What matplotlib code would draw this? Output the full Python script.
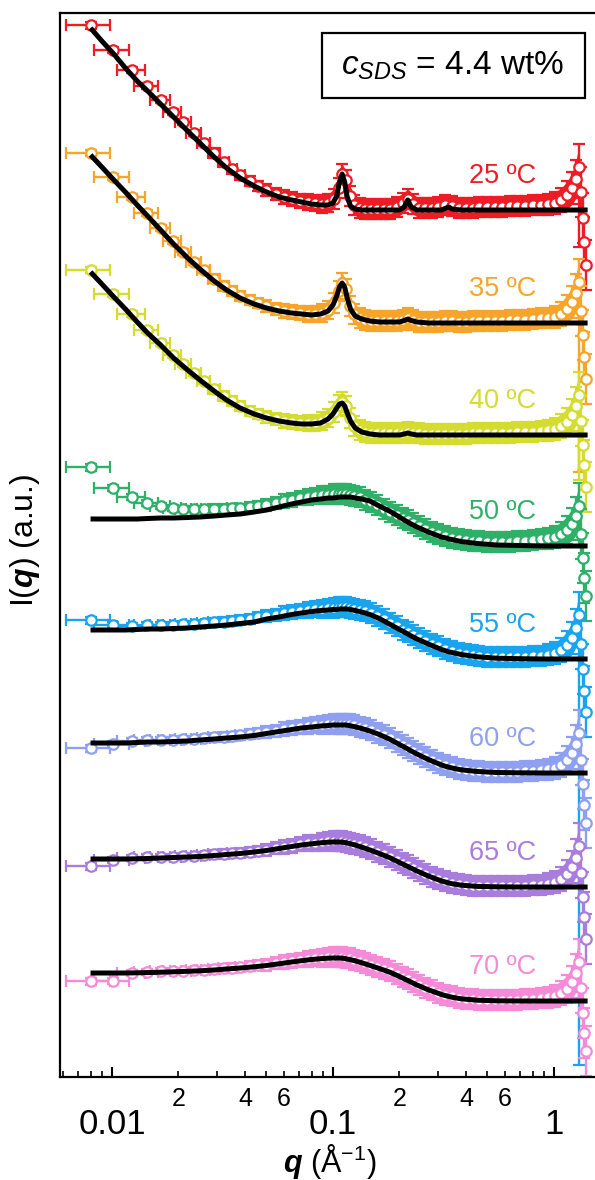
import numpy as np
import matplotlib
matplotlib.use("Agg")
import matplotlib.pyplot as plt
from matplotlib.ticker import FixedLocator, FixedFormatter, LogLocator, FuncFormatter
from matplotlib.patches import Rectangle

plt.rcParams['font.family'] = ['Liberation Sans', 'DejaVu Sans']
plt.rcParams['mathtext.fontset'] = 'custom'
plt.rcParams['mathtext.rm'] = 'Liberation Sans'
plt.rcParams['mathtext.it'] = 'Liberation Sans:italic'
plt.rcParams['mathtext.bf'] = 'Liberation Sans:bold:italic'

# ---------------- data ----------------
temps = ["25 ºC", "35 ºC", "40 ºC", "50 ºC", "55 ºC", "60 ºC", "65 ºC", "70 ºC"]
colors = ["#ee1c24", "#f7a42a", "#d4dc2e", "#2fb068", "#18a4ee", "#8fa0f0", "#a87ddd", "#f48ad8"]
offsets = [86.7, 75.4, 64.2, 53.1, 41.8, 30.4, 19.0, 7.6]

q_data = [0.0080, 0.0101, 0.0123, 0.0144, 0.0166, 0.0188, 0.0210, 0.0235, 0.026, 0.029,
          0.032, 0.035, 0.038, 0.042, 0.046, 0.050, 0.055, 0.060, 0.065, 0.071,
          0.077, 0.083, 0.089, 0.095, 0.101, 0.106, 0.110, 0.114, 0.119, 0.125,
          0.132, 0.140, 0.149, 0.159, 0.170, 0.182, 0.195, 0.208, 0.218, 0.230,
          0.245, 0.262, 0.280, 0.300, 0.322, 0.345, 0.37, 0.40, 0.43, 0.46,
          0.50, 0.54, 0.58, 0.63, 0.68, 0.74, 0.80, 0.87, 0.94, 1.01,
          1.08, 1.15, 1.21, 1.26, 1.30, 1.33, 1.35, 1.37, 1.39]
q_res = 0.0018
I_err = [0.35, 0.3, 0.3, 0.3, 0.3, 0.3, 0.3, 0.3, 0.3, 0.45,
         0.45, 0.45, 0.45, 0.5, 0.5, 0.6, 0.6, 0.7, 0.7, 0.7,
         0.8, 0.8, 0.9, 0.9, 1.0, 1.0, 1.0, 1.0, 1.0, 1.0,
         1.0, 1.0, 1.0, 1.0, 1.0, 1.0, 1.0, 1.0, 1.0, 1.0,
         1.0, 1.0, 1.0, 1.0, 1.0, 1.0, 1.0, 1.0, 1.0, 1.0,
         1.0, 1.0, 1.0, 1.0, 1.0, 1.0, 1.0, 1.0, 1.05, 1.1,
         1.2, 1.4, 1.6, 1.9, 2.3, 2.5, 2.5, 2.5, 2.5]
tail_drop = [8.0, 19.0, 8.5, 4.0, 45.0, 4.0, 4.0, 4.0]

I25 = [18.5, 16.0, 14.0, 12.4, 11.0, 9.8, 8.8, 7.7, 6.7, 5.7,
       4.8, 4.1, 3.5, 2.9, 2.4, 2.0, 1.6, 1.3, 1.1, 0.9,
       0.8, 0.7, 0.6, 0.7, 1.1, 2.2, 3.6, 3.0, 1.4, 0.5,
       0.2, 0.1, 0.1, 0.1, 0.1, 0.1, 0.3, 0.7, 1.1, 0.6,
       0.2, 0.2, 0.2, 0.3, 0.5, 0.4, 0.2, 0.2, 0.2, 0.3,
       0.3, 0.3, 0.35, 0.4, 0.4, 0.45, 0.5, 0.55, 0.6, 0.7,
       1.0, 1.5, 2.2, 3.1, 4.3, 1.8, -0.8, -3.2, -5.5]
I35 = [17.0, 14.6, 12.6, 11.0, 9.5, 8.2, 7.1, 6.1, 5.3, 4.4,
       3.7, 3.2, 2.7, 2.3, 2.0, 1.7, 1.4, 1.2, 1.1, 1.0,
       0.9, 0.9, 1.0, 1.3, 2.0, 3.2, 4.0, 3.4, 1.7, 0.9,
       0.5, 0.3, 0.2, 0.2, 0.2, 0.2, 0.2, 0.3, 0.5, 0.3,
       0.1, 0.1, 0.1, 0.1, 0.15, 0.15, 0.1, 0.1, 0.15, 0.2,
       0.2, 0.2, 0.25, 0.3, 0.3, 0.35, 0.4, 0.45, 0.5, 0.6,
       0.9, 1.4, 2.1, 3.0, 4.1, 1.2, -1.2, -3.4, -5.6]
I40 = [16.5, 14.1, 12.1, 10.5, 9.2, 8.0, 7.1, 6.2, 5.4, 4.6,
       3.9, 3.4, 2.9, 2.4, 2.1, 1.8, 1.6, 1.4, 1.3, 1.2,
       1.2, 1.2, 1.4, 1.7, 2.3, 3.0, 3.3, 2.9, 1.7, 0.9,
       0.5, 0.3, 0.2, 0.15, 0.15, 0.15, 0.15, 0.2, 0.3, 0.2,
       0.15, 0.1, 0.1, 0.1, 0.1, 0.1, 0.1, 0.1, 0.15, 0.15,
       0.2, 0.2, 0.2, 0.25, 0.3, 0.3, 0.35, 0.4, 0.5, 0.6,
       0.9, 1.3, 2.0, 2.9, 4.0, 1.4, -1.0, -3.0, -5.2]
I50 = [7.9, 5.8, 4.9, 4.3, 4.0, 3.8, 3.7, 3.7, 3.7, 3.7,
       3.7, 3.8, 3.8, 3.9, 4.0, 4.1, 4.3, 4.5, 4.65, 4.8,
       4.9, 5.0, 5.1, 5.15, 5.2, 5.2, 5.2, 5.2, 5.15, 5.05,
       4.9, 4.65, 4.4, 4.1, 3.75, 3.4, 3.1, 2.8, 2.6, 2.3,
       2.0, 1.7, 1.4, 1.2, 1.0, 0.8, 0.7, 0.6, 0.5, 0.5,
       0.4, 0.4, 0.4, 0.4, 0.5, 0.5, 0.6, 0.7, 0.8, 0.9,
       1.2, 1.6, 2.2, 3.0, 4.0, 1.2, -1.2, -3.2, -5.0]
I55 = [3.9, 3.4, 3.35, 3.4, 3.4, 3.45, 3.5, 3.55, 3.6, 3.7,
       3.75, 3.85, 3.95, 4.05, 4.2, 4.3, 4.45, 4.6, 4.75, 4.8,
       4.9, 5.0, 5.05, 5.1, 5.15, 5.2, 5.2, 5.2, 5.15, 5.05,
       4.95, 4.8, 4.6, 4.3, 4.0, 3.65, 3.3, 2.95, 2.7, 2.4,
       2.1, 1.8, 1.55, 1.3, 1.0, 0.8, 0.6, 0.48, 0.38, 0.3,
       0.24, 0.2, 0.2, 0.2, 0.2, 0.25, 0.3, 0.35, 0.45, 0.6,
       0.9, 1.4, 2.1, 3.1, 4.4, 1.5, -1.0, -3.2, -5.3]
I60 = [2.5, 2.9, 3.2, 3.3, 3.3, 3.35, 3.4, 3.45, 3.5, 3.6,
       3.65, 3.7, 3.8, 3.9, 4.0, 4.1, 4.25, 4.4, 4.5, 4.6,
       4.7, 4.8, 4.85, 4.9, 4.95, 4.95, 4.95, 4.95, 4.9, 4.8,
       4.65, 4.5, 4.3, 4.05, 3.8, 3.5, 3.15, 2.8, 2.55, 2.25,
       1.95, 1.65, 1.35, 1.05, 0.8, 0.6, 0.45, 0.32, 0.25, 0.2,
       0.15, 0.12, 0.12, 0.12, 0.15, 0.18, 0.22, 0.3, 0.4, 0.55,
       0.85, 1.3, 2.0, 2.9, 4.0, 1.3, -1.1, -3.2, -5.0]
I65 = [2.1, 2.7, 2.9, 3.0, 3.0, 3.05, 3.1, 3.15, 3.2, 3.3,
       3.35, 3.4, 3.45, 3.55, 3.65, 3.75, 3.9, 4.0, 4.15, 4.3,
       4.4, 4.45, 4.52, 4.57, 4.6, 4.6, 4.58, 4.55, 4.45, 4.35,
       4.2, 4.0, 3.8, 3.55, 3.3, 3.05, 2.7, 2.4, 2.2, 1.95,
       1.65, 1.35, 1.05, 0.82, 0.6, 0.42, 0.3, 0.2, 0.15, 0.12,
       0.1, 0.1, 0.1, 0.1, 0.12, 0.15, 0.2, 0.25, 0.35, 0.5,
       0.8, 1.3, 2.0, 2.9, 4.1, 1.4, -1.0, -3.0, -5.2]
I70 = [2.0, 2.0, 2.85, 2.95, 3.0, 3.02, 3.05, 3.1, 3.15, 3.2,
       3.28, 3.34, 3.4, 3.48, 3.56, 3.65, 3.77, 3.9, 4.0, 4.12,
       4.22, 4.3, 4.35, 4.38, 4.4, 4.4, 4.38, 4.35, 4.27, 4.15,
       4.0, 3.83, 3.62, 3.42, 3.2, 2.97, 2.68, 2.4, 2.18, 1.93,
       1.65, 1.35, 1.08, 0.85, 0.65, 0.47, 0.34, 0.24, 0.18, 0.14,
       0.12, 0.12, 0.12, 0.12, 0.14, 0.17, 0.22, 0.28, 0.36, 0.5,
       0.8, 1.2, 1.9, 2.8, 3.9, 1.3, -1.2, -3.2, -5.0]

q_fit = [0.0080, 0.0090, 0.0101, 0.0115, 0.0130, 0.0145, 0.0166, 0.0190, 0.0220, 0.0250,
         0.0290, 0.0330, 0.0380, 0.0440, 0.0500, 0.0570, 0.0650, 0.0720, 0.0800, 0.0880,
         0.0950, 0.1000, 0.1040, 0.1070, 0.1100, 0.1130, 0.1160, 0.1200, 0.1260, 0.1350,
         0.1470, 0.1620, 0.1800, 0.2000, 0.2100, 0.2180, 0.2260, 0.2400, 0.2700, 0.3100,
         0.3250, 0.3350, 0.3450, 0.3800, 0.45, 0.55, 0.70, 0.90, 1.10, 1.42]
F25 = [18.2, 16.9, 15.7, 14.2, 12.9, 11.9, 10.6, 9.3, 7.9, 6.7,
       5.3, 4.2, 3.2, 2.4, 1.8, 1.3, 1.0, 0.8, 0.6, 0.5,
       0.5, 0.7, 1.4, 2.8, 3.6, 2.8, 1.3, 0.4, 0.1, 0.0,
       0.0, 0.0, 0.0, 0.0, 0.3, 1.0, 0.3, 0.0, 0.0, 0.0,
       0.2, 0.3, 0.1, 0.0, 0.0, 0.0, 0.0, 0.0, 0.0, 0.0]
F35 = [16.8, 15.6, 14.4, 13.1, 11.8, 10.7, 9.3, 7.9, 6.5, 5.4,
       4.2, 3.3, 2.5, 1.9, 1.5, 1.2, 1.0, 0.9, 0.8, 0.9,
       1.2, 1.8, 2.7, 3.6, 4.0, 3.6, 2.5, 1.4, 0.7, 0.4,
       0.2, 0.1, 0.1, 0.1, 0.25, 0.4, 0.25, 0.1, 0.0, 0.0,
       0.0, 0.0, 0.0, 0.0, 0.0, 0.0, 0.0, 0.0, 0.0, 0.0]
F40 = [16.3, 15.1, 13.9, 12.6, 11.3, 10.2, 9.0, 7.7, 6.5, 5.5,
       4.4, 3.5, 2.7, 2.1, 1.7, 1.4, 1.2, 1.1, 1.1, 1.2,
       1.6, 2.1, 2.7, 3.1, 3.2, 2.9, 2.2, 1.4, 0.7, 0.3,
       0.1, 0.0, 0.0, 0.0, 0.1, 0.2, 0.1, 0.0, 0.0, 0.0,
       0.0, 0.0, 0.0, 0.0, 0.0, 0.0, 0.0, 0.0, 0.0, 0.0]
F50 = [2.7, 2.7, 2.7, 2.7, 2.7, 2.75, 2.8, 2.8, 2.85, 2.9,
       3.0, 3.1, 3.2, 3.4, 3.6, 3.9, 4.2, 4.4, 4.6, 4.7,
       4.8, 4.8, 4.85, 4.9, 4.9, 4.9, 4.9, 4.9, 4.8, 4.7,
       4.5, 4.0, 3.5, 2.9, 2.6, 2.4, 2.2, 1.9, 1.4, 0.9,
       0.8, 0.7, 0.65, 0.45, 0.25, 0.1, 0.05, 0.0, 0.0, 0.0]
F55 = [2.9, 2.9, 2.9, 2.9, 2.95, 3.0, 3.0, 3.05, 3.1, 3.2,
       3.3, 3.4, 3.55, 3.7, 4.0, 4.2, 4.45, 4.6, 4.75, 4.85,
       4.9, 4.95, 4.95, 5.0, 5.0, 5.0, 5.0, 4.95, 4.85, 4.7,
       4.45, 4.05, 3.5, 2.95, 2.7, 2.5, 2.3, 2.0, 1.5, 0.95,
       0.8, 0.72, 0.65, 0.45, 0.22, 0.08, 0.03, 0.0, 0.0, 0.0]
F60 = [3.0, 3.0, 3.0, 3.0, 3.05, 3.1, 3.1, 3.15, 3.2, 3.3,
       3.4, 3.5, 3.6, 3.75, 3.95, 4.15, 4.35, 4.5, 4.6, 4.7,
       4.75, 4.8, 4.8, 4.8, 4.8, 4.8, 4.78, 4.72, 4.62, 4.45,
       4.2, 3.85, 3.4, 2.85, 2.6, 2.4, 2.2, 1.9, 1.35, 0.8,
       0.65, 0.58, 0.5, 0.32, 0.15, 0.05, 0.02, 0.0, 0.0, 0.0]
F65 = [2.8, 2.8, 2.8, 2.8, 2.82, 2.85, 2.9, 2.95, 3.0, 3.05,
       3.15, 3.25, 3.35, 3.5, 3.65, 3.85, 4.05, 4.2, 4.32, 4.42,
       4.48, 4.5, 4.5, 4.5, 4.48, 4.45, 4.4, 4.32, 4.2, 3.98,
       3.7, 3.35, 2.95, 2.45, 2.22, 2.05, 1.88, 1.6, 1.1, 0.6,
       0.48, 0.4, 0.33, 0.18, 0.06, 0.02, 0.0, 0.0, 0.0, 0.0]
F70 = [2.8, 2.8, 2.8, 2.8, 2.82, 2.84, 2.88, 2.92, 2.97, 3.02,
       3.1, 3.2, 3.3, 3.42, 3.55, 3.72, 3.9, 4.03, 4.15, 4.23,
       4.28, 4.3, 4.3, 4.3, 4.28, 4.25, 4.2, 4.13, 4.02, 3.82,
       3.56, 3.25, 2.9, 2.45, 2.22, 2.05, 1.88, 1.6, 1.12, 0.65,
       0.52, 0.45, 0.38, 0.22, 0.08, 0.02, 0.0, 0.0, 0.0, 0.0]

data_sets = [I25, I35, I40, I50, I55, I60, I65, I70]
fit_sets = [F25, F35, F40, F50, F55, F60, F65, F70]

major_ticks = [0.01, 0.1, 1]
major_labels = ["0.01", "0.1", "1"]
minor_labeled = [2, 4, 6]

# ---------------- figure ----------------
W, H = 595, 1180
fig = plt.figure(figsize=(W / 100, H / 100), dpi=100)
ax = fig.add_axes([60 / W, 1 - 1077 / H, (620 - 60) / W, 1064 / H])
ax.set_xscale('log')
ax.set_xlim(0.00582, 1.99)
ax.set_ylim(0, 106.4)

qd = np.array(q_data)
err = np.array(I_err)
qf = np.array(q_fit)

for k in range(len(temps)):
    c = colors[k]
    y = np.array(data_sets[k]) + offsets[k]
    lower = err.copy()
    lower[64] = tail_drop[k]
    # dense band (overlapping error bars at high q)
    sl = slice(17, 65)
    ax.fill_between(qd[sl], y[sl] - err[sl], y[sl] + err[sl], color=c, lw=0, zorder=1)
    ax.errorbar(qd, y, xerr=q_res, yerr=[lower, err], fmt='o', mfc='white', mec=c,
                ecolor=c, ms=7.5, mew=1.6, elinewidth=1.7, capsize=4.5, capthick=1.7,
                zorder=2, clip_on=True)
    ax.plot(qf, np.array(fit_sets[k]) + offsets[k], color='black', lw=3.6,
            solid_capstyle='butt', zorder=4)
    ax.text(0.83, offsets[k] + 3.4, temps[k], color=c, fontsize=19.5,
            ha='right', va='center', zorder=5)

# axes styling
for s in ['left', 'bottom', 'top', 'right']:
    ax.spines[s].set_linewidth(1.6)
ax.set_yticks([])
ax.xaxis.set_major_locator(FixedLocator(major_ticks))
ax.xaxis.set_major_formatter(FixedFormatter(major_labels))
ax.xaxis.set_minor_locator(LogLocator(base=10, subs=np.arange(2, 10)))


def minor_fmt(v, pos):
    if v < 0.01:
        return ""
    d = int(round(v / 10 ** np.floor(np.log10(v) + 1e-9)))
    return str(d) if d in minor_labeled else ""


ax.xaxis.set_minor_formatter(FuncFormatter(minor_fmt))
ax.tick_params(axis='x', which='major', direction='in', length=7, width=1.5,
               labelsize=25, pad=22, top=False)
ax.tick_params(axis='x', which='minor', direction='in', length=4, width=1.2,
               labelsize=18, pad=7, top=False)

# axis labels
fig.text(330 / W, 1 - 1172 / H, r"$\mathbf{q}$ (Å$^{-1}$)", fontsize=22,
         ha='center', va='baseline')
fig.text(25 / W, 1 - 540 / H, r"I($\mathbf{q}$) (a.u.)", fontsize=23,
         ha='center', va='center', rotation=90)

# concentration box
fig.patches.append(Rectangle((322 / W, 1 - 98 / H), 263 / W, 65 / H, transform=fig.transFigure,
                             facecolor='white', edgecolor='black', lw=1.6, zorder=10))
fig.text(453 / W, 1 - 66 / H, r"$c_{SDS}$ = 4.4 wt%", fontsize=24,
         ha='center', va='center', zorder=11)

fig.savefig("out.png", dpi=100)
